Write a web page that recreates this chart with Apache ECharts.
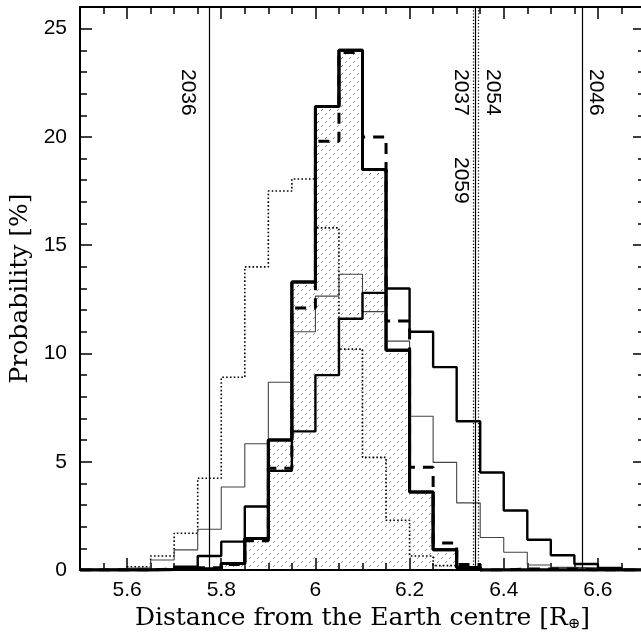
<!DOCTYPE html>
<html><head><meta charset="utf-8">
<script src="https://cdn.jsdelivr.net/npm/echarts@6/dist/echarts.min.js"></script>
<style>html,body{margin:0;padding:0;background:#fff}#c{width:641px;height:637px}</style>
</head><body><div id="c"></div>
<script>
// ---- data ----
const binEdges = [5.50,5.55,5.60,5.65,5.70,5.75,5.80,5.85,5.90,5.95,6.00,6.05,6.10,6.15,6.20,6.25,6.30,6.35,6.40,6.45,6.50,6.55,6.60,6.65,6.70];
const shadedThick  = [0,0,0,0.02,0.05,0.05,0.3,1.45,6.0,13.3,21.4,24.0,18.5,10.15,3.6,0.93,0.12,0,0,0,0,0,0,0];
const dashedThick  = [0,0,0,0.05,0.1,0.1,0.25,1.35,4.7,12.1,19.8,23.9,20.0,11.5,4.75,1.25,0.25,0,0.05,0.05,0.05,0,0,0];
const shiftedSolid = [0,0,0,0,0.15,0.65,1.31,2.93,4.58,6.4,9.0,11.6,12.8,13.0,11.0,9.37,6.87,4.5,2.75,1.4,0.68,0.28,0.1,0];
const thinSolid    = [0,0.08,0.1,0.46,0.93,1.88,3.83,5.83,8.67,11.0,12.65,13.66,11.93,10.57,7.1,4.97,3.1,1.5,0.82,0.23,0.12,0.1,0.03,0];
const dottedHist   = [0,0.03,0.15,0.65,1.7,4.24,8.9,14.0,17.5,18.06,15.8,10.2,5.2,2.3,0.65,0.2,0,0,0,0,0,0,0,0];
const eventYears     = ['2036','2037','2059','2054','2046'];
const eventDistances = [5.7735,6.3397,6.3348,6.3468,6.5676];
const xMajorTicks = [5.6,5.8,6.0,6.2,6.4,6.6];
const yMajorTicks = [0,5,10,15,20,25];
const X_MIN = 5.5, X_MAX = 6.7, Y_MIN = 0, Y_MAX = 26;

// ---- helpers ----
function stepPoints(vals){
  const pts = [[binEdges[0],0]];
  for (let i=0;i<vals.length;i++) pts.push([binEdges[i], vals[i]]);
  pts.push([binEdges[vals.length], 0]);
  return pts;
}
function makePattern(){
  const c = document.createElement('canvas');
  c.width = 8; c.height = 8;
  const g = c.getContext('2d');
  g.strokeStyle = '#3a3a3a'; g.lineWidth = 1;
  g.beginPath();
  g.moveTo(1.4,6.6); g.lineTo(2.6,5.4);
  g.moveTo(5.4,2.6); g.lineTo(6.6,1.4);
  g.stroke();
  return c;
}
const sans = 'Liberation Sans, Arial, Helvetica, sans-serif';
const serif = 'DejaVu Serif, Liberation Serif, serif';
const tickStyle = {color:'#000', width:1.5};

function xAxisMajor(pos, showLabel, extra){
  return Object.assign({
    type:'value', min:X_MIN, max:X_MAX, position:pos,
    axisLine:{show:true, onZero:false, lineStyle:{color:'#000', width:2}},
    axisTick:{show:true, inside:true, length:12, customValues:xMajorTicks, lineStyle:tickStyle},
    axisLabel:{show:showLabel, customValues:xMajorTicks, margin:10, color:'#000', fontSize:21, fontFamily:sans,
      formatter: v => String(+(+v).toFixed(2))},
    splitLine:{show:false}
  }, extra||{});
}
function xAxisMinor(pos){
  return {type:'value', min:X_MIN, max:X_MAX, interval:0.05, position:pos,
    axisLine:{show:false, onZero:false}, axisTick:{show:true, inside:true, length:7, lineStyle:tickStyle},
    axisLabel:{show:false}, splitLine:{show:false}};
}
function yAxisMajor(pos, showLabel, extra){
  return Object.assign({
    type:'value', min:Y_MIN, max:Y_MAX, position:pos,
    axisLine:{show:true, onZero:false, lineStyle:{color:'#000', width:2}},
    axisTick:{show:true, inside:true, length:12, customValues:yMajorTicks, lineStyle:tickStyle},
    axisLabel:{show:showLabel, customValues:yMajorTicks, margin:13, color:'#000', fontSize:21, fontFamily:sans},
    splitLine:{show:false}
  }, extra||{});
}
function yAxisMinor(pos){
  return {type:'value', min:Y_MIN, max:Y_MAX, interval:1, position:pos,
    axisLine:{show:false, onZero:false}, axisTick:{show:true, inside:true, length:7, lineStyle:tickStyle},
    axisLabel:{show:false}, splitLine:{show:false}};
}

const eventLineStyles = ['solid','solid','dotted','dotted','solid'];
const eventLabelPos = ['insideStartBottom','insideStartBottom','insideStartBottom','insideStartTop','insideStartTop'];
const eventLabelDist = [[62,10],[62,4],[150,1.5],[62,4],[62,3]];

const markData = eventYears.map((yr,i)=>[
  {coord:[eventDistances[i], Y_MAX],
   lineStyle:{color:'#000', width:1.2, type: eventLineStyles[i]==='dotted' ? [1.2,2] : 'solid'},
   label:{show:true, formatter: yr, position: eventLabelPos[i], distance: eventLabelDist[i],
     color:'#000', fontSize:21, fontFamily:sans}},
  {coord:[eventDistances[i], Y_MIN]}
]);

const chart = echarts.init(document.getElementById('c'), null, {renderer:'canvas'});
chart.setOption({
  animation:false,
  backgroundColor:'#fff',
  grid:{left:80, right:-4, top:7, bottom:67, containLabel:false, outerBoundsMode:'none'},
  xAxis:[
    xAxisMajor('bottom', true, {
      name:'{a|Distance from the Earth centre [R}{s|⊕}{a|]}',
      nameLocation:'middle', nameGap:35,
      nameTextStyle:{color:'#000', fontFamily:serif, fontSize:25,
        rich:{a:{fontFamily:serif, fontSize:25, color:'#000'},
              s:{fontFamily:serif, fontSize:15, color:'#000', padding:[12,0,0,0]}}}
    }),
    xAxisMinor('bottom'),
    xAxisMajor('top', false),
    xAxisMinor('top')
  ],
  yAxis:[
    yAxisMajor('left', true, {
      name:'Probability [%]', nameLocation:'middle', nameGap:44,
      nameTextStyle:{color:'#000', fontFamily:serif, fontSize:25}
    }),
    yAxisMinor('left'),
    yAxisMajor('right', false),
    yAxisMinor('right')
  ],
  series:[
    {name:'shaded', type:'line', step:'end', symbol:'none', data:stepPoints(shadedThick),
     lineStyle:{color:'#000', width:3}, areaStyle:{color:{image:makePattern(), repeat:'repeat'}, opacity:1}, z:2},
    {name:'dotted', type:'line', step:'end', symbol:'none', data:stepPoints(dottedHist),
     lineStyle:{color:'#000', width:1.6, type:[1.6,2.2]}, z:3},
    {name:'thin', type:'line', step:'end', symbol:'none', data:stepPoints(thinSolid),
     lineStyle:{color:'#444', width:1.1}, z:3},
    {name:'shifted', type:'line', step:'end', symbol:'none', data:stepPoints(shiftedSolid),
     lineStyle:{color:'#000', width:2.4}, z:4},
    {name:'dashed', type:'line', step:'end', symbol:'none', data:stepPoints(dashedThick),
     lineStyle:{color:'#000', width:3, type:[11,8]}, z:4},
    {name:'shadedTop', type:'line', step:'end', symbol:'none', data:stepPoints(shadedThick),
     lineStyle:{color:'#000', width:3}, z:5},
    {name:'events', type:'line', data:[], z:6,
     markLine:{silent:true, symbol:['none','none'], animation:false, data:markData}}
  ]
});
</script></body></html>
